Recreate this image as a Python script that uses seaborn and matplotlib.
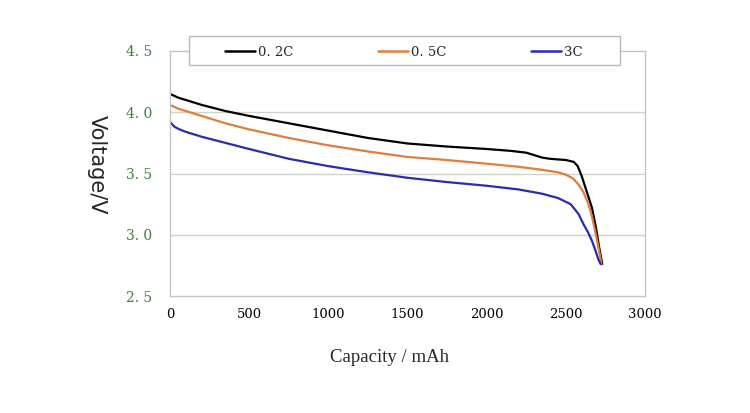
import matplotlib
matplotlib.use("Agg")
import matplotlib.pyplot as plt
from matplotlib.patches import Rectangle
import seaborn as sns
import pandas as pd

# discharge curves (capacity mAh, voltage V)
cap_02c = [0, 50, 100, 200, 350, 500, 750, 1000, 1250, 1500, 1750, 2000, 2150, 2250, 2300,
           2350, 2400, 2450, 2500, 2550, 2575, 2600, 2630, 2665, 2690, 2710, 2730]
volt_02c = [4.15, 4.12, 4.10, 4.06, 4.01, 3.97, 3.91, 3.85, 3.79, 3.745, 3.72, 3.70, 3.685, 3.67, 3.65,
            3.63, 3.62, 3.615, 3.61, 3.595, 3.56, 3.48, 3.36, 3.22, 3.06, 2.90, 2.76]

cap_05c = [0, 50, 100, 200, 350, 500, 750, 1000, 1250, 1500, 1750, 2000, 2200, 2350,
           2450, 2500, 2545, 2580, 2610, 2640, 2665, 2690, 2710, 2725]
volt_05c = [4.06, 4.03, 4.01, 3.97, 3.91, 3.86, 3.79, 3.73, 3.68, 3.635, 3.61, 3.58, 3.555, 3.53,
            3.51, 3.49, 3.46, 3.41, 3.35, 3.26, 3.15, 3.00, 2.87, 2.76]

cap_3c = [0, 30, 60, 100, 200, 350, 500, 750, 1000, 1250, 1500, 1750, 2000, 2200, 2350,
          2450, 2530, 2580, 2610, 2640, 2665, 2690, 2705, 2720]
volt_3c = [3.92, 3.88, 3.86, 3.84, 3.80, 3.75, 3.70, 3.62, 3.56, 3.51, 3.465, 3.43, 3.40, 3.37, 3.335,
           3.30, 3.25, 3.17, 3.09, 3.02, 2.95, 2.86, 2.80, 2.76]

series_names = ["0. 2C", "0. 5C", "3C"]
series_colors = ["#000000", "#e07d3c", "#2b2bb0"]
x_ticks = [0, 500, 1000, 1500, 2000, 2500, 3000]
y_ticks = [2.5, 3.0, 3.5, 4.0, 4.5]

frames = []
for name, c, v in zip(series_names, [cap_02c, cap_05c, cap_3c], [volt_02c, volt_05c, volt_3c]):
    frames.append(pd.DataFrame({"capacity": c, "voltage": v, "rate": name}))
df = pd.concat(frames, ignore_index=True)

sns.set_style("white")

fig = plt.figure(figsize=(7.5, 4.13), dpi=100)
ax = fig.add_axes([170 / 750, 1 - 296 / 413, 475 / 750, 245 / 413])

sns.lineplot(data=df, x="capacity", y="voltage", hue="rate", sort=False,
             palette=dict(zip(series_names, series_colors)), linewidth=1.6,
             legend=False, ax=ax)

ax.set_xlim(0, 3000)
ax.set_ylim(2.5, 4.5)
ax.set_xticks(x_ticks)
ax.set_yticks(y_ticks)
ax.set_xticklabels([str(t) for t in x_ticks], family="DejaVu Serif", fontsize=9.5,
                   color="black")
ax.set_yticklabels([f"{t:.1f}".replace(".", ". ") for t in y_ticks],
                   family="DejaVu Serif", fontsize=10, color="#3f7f3f")
ax.tick_params(axis="y", length=0, pad=13)
ax.tick_params(axis="x", direction="in", length=3, color="#b8b8b8", pad=9)
ax.set_xlabel("")
ax.set_ylabel("")

# horizontal gridlines only
for y in [3.0, 3.5, 4.0]:
    ax.axhline(y, color="#ccd4cc", linewidth=1, zorder=0)

for s in ax.spines.values():
    s.set_color("#c4c4c4")
    s.set_linewidth(1)

fig.text(97 / 750, 1 - 165 / 413, "Voltage/V", rotation=-90, ha="center", va="center",
         fontsize=15, family="DejaVu Sans")
fig.text(390 / 750, 1 - 357 / 413, "Capacity / mAh", ha="center", va="center",
         fontsize=13.5, family="Liberation Serif")

# legend box sits over the top spine
box = Rectangle((189 / 750, 1 - 65 / 413), 431 / 750, 29 / 413, transform=fig.transFigure,
                facecolor="white", edgecolor="#b8b8b8", linewidth=1, zorder=3)
fig.patches.append(box)

handles = [plt.Line2D([], [], color=c, linewidth=1.8) for c in series_colors]
leg = fig.legend(handles, series_names, loc="center left", ncol=3,
                 bbox_to_anchor=(225 / 750, 1 - 52 / 413),
                 frameon=False, handlelength=2.3, handletextpad=0.2,
                 columnspacing=6.4, borderpad=0, borderaxespad=0,
                 prop={"family": "DejaVu Serif", "size": 9.5})
leg.set_zorder(5)

fig.savefig("out.png", dpi=100)
